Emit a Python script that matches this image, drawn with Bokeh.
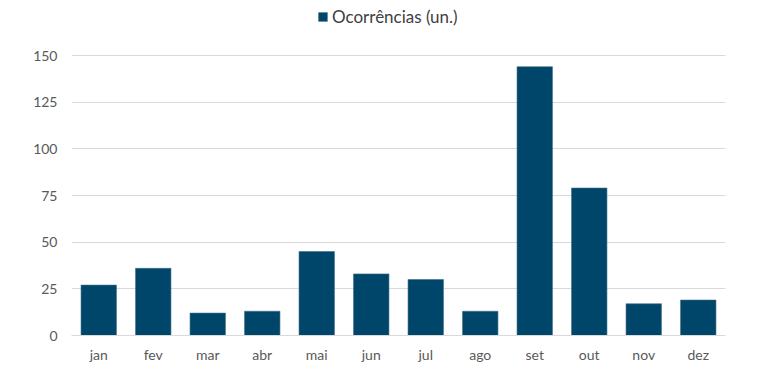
from bokeh.plotting import figure
from bokeh.models import ColumnDataSource, Legend, LegendItem, Range1d, FixedTicker
from bokeh.embed import file_html
from bokeh.resources import INLINE

months = ["jan", "fev", "mar", "abr", "mai", "jun", "jul", "ago", "set", "out", "nov", "dez"]
ocorrencias = [27, 36, 12, 13, 45, 33, 30, 13, 144, 79, 17, 19]
series_name = "Ocorrências (un.)"
y_ticks = [0, 25, 50, 75, 100, 125, 150]

FONT = "Lato"
BAR = "#00466A"

# frame: top at 5px, 0 at 335px, 150 at 55px -> extend range so legend fits inside the frame
y_top = 150 + 50 * 150 / 280

src = ColumnDataSource(dict(m=months, v=ocorrencias))

p = figure(width=768, height=373, x_range=months, y_range=Range1d(0, y_top),
           output_backend="svg", toolbar_location=None,
           min_border_left=71, min_border_right=43, min_border_top=5, min_border_bottom=38)
p.outline_line_color = None
p.background_fill_color = "white"
p.border_fill_color = "white"

r = p.vbar(x="m", top="v", width=0.65, source=src, fill_color=BAR, line_color="#3d6f89", line_width=0.6)

p.yaxis.ticker = FixedTicker(ticks=y_ticks)
p.ygrid.grid_line_color = "#d9d9d9"
p.ygrid.grid_line_width = 1
p.xgrid.grid_line_color = None

for ax in (p.xaxis[0], p.yaxis[0]):
    ax.major_tick_line_color = None
    ax.minor_tick_line_color = None
    ax.major_label_text_font = FONT
    ax.major_label_text_font_size = "14px"
    ax.major_label_text_color = "#595959"
p.yaxis.axis_line_color = None
p.xaxis.axis_line_color = "#d9d9d9"
p.yaxis.major_label_standoff = 8
p.xaxis.major_label_standoff = 4

legend = Legend(items=[LegendItem(label=series_name, renderers=[r])],
                orientation="horizontal", location=(246, 308),
                label_text_font=FONT, label_text_font_size="17px", label_text_color="#404040",
                glyph_width=11, glyph_height=11, label_standoff=4, label_height=20,
                border_line_color=None, background_fill_alpha=0, padding=0, margin=0)
p.add_layout(legend, "center")

open("out.html", "w").write(file_html(p, INLINE))
